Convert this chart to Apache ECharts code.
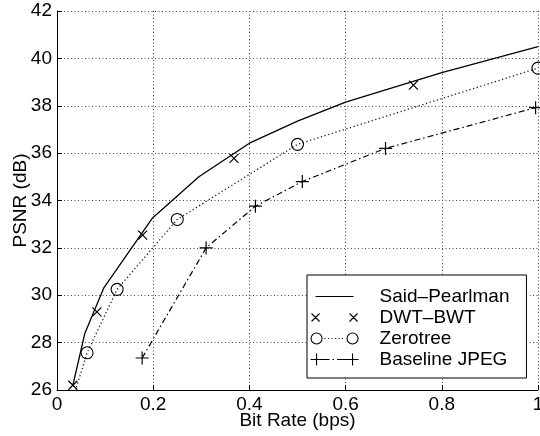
<!DOCTYPE html>
<html>
<head>
<meta charset="utf-8">
<script src="https://cdn.jsdelivr.net/npm/echarts@6/dist/echarts.min.js"></script>
<style>
  html, body { margin: 0; padding: 0; background: #fff; }
  #chart { width: 540px; height: 436px; }
</style>
</head>
<body>
<div id="chart"></div>
<script>
// values
const spRate = [0.033, 0.058, 0.097, 0.198, 0.295, 0.4, 0.5, 0.6, 0.8, 1.0];
const spPsnr = [26.2, 28.4, 30.3, 33.25, 35.0, 36.42, 37.35, 38.15, 39.4, 40.5];

const dwtRate = [0.033, 0.083, 0.178, 0.368, 0.741];
const dwtPsnr = [26.2, 29.3, 32.54, 35.78, 38.87];

const ztRate = [0.03125, 0.0625, 0.125, 0.25, 0.5, 1.0];
const ztPsnr = [25.5, 27.57, 30.25, 33.2, 36.37, 39.59];

const jpRate = [0.177, 0.31, 0.4125, 0.51, 0.683, 0.995];
const jpPsnr = [27.35, 32.0, 33.76, 34.8, 36.2, 37.92];

const seriesNames = ["Said–Pearlman", "DWT–BWT", "Zerotree", "Baseline JPEG"];

const xTicks = { min: 0, max: 1, interval: 0.2 };
const yTicks = { min: 26, max: 42, interval: 2 };

const pair = (xs, ys) => xs.map((x, i) => [x, ys[i]]);

const FONT = "Liberation Sans, Arial, Helvetica, sans-serif";

const xMark = "path://M0,0L10,10M0,10L10,0";
const plusMark = "path://M5,0L5,10M0,5L10,5";

// legend samples in matlab style: marker at both ends of the line
const box = "M0,0M48,14";
const legendIcons = [
  "path://" + box + "M5,7L43,7",
  "path://" + box + "M1,3L9,11M1,11L9,3M39,3L47,11M39,11L47,3",
  "path://" + box +
    "M0.5,7A5.5,5.5 0 1 1 11.5,7A5.5,5.5 0 1 1 0.5,7" +
    "M36.5,7A5.5,5.5 0 1 1 47.5,7A5.5,5.5 0 1 1 36.5,7" +
    "M14,7L15,7M17.5,7L18.5,7M21,7L22,7M24.5,7L25.5,7M28,7L29,7M31.5,7L32.5,7",
  "path://" + box + "M0,7L12,7M6,1L6,13M36,7L48,7M42,1L42,13" +
    "M12,7L19,7M22,7L23.5,7M26.5,7L36,7",
];

const chart = echarts.init(document.getElementById("chart"));

const option = {
  animation: false,
  backgroundColor: "#fff",
  textStyle: { fontFamily: FONT, color: "#000" },
  grid: { left: 57, right: 2, top: 11, bottom: 46, outerBoundsMode: "none", containLabel: false },
  legend: {
    orient: "vertical",
    left: 307,
    top: 275,
    padding: [12, 17, 9, 3],
    itemWidth: 48,
    itemHeight: 14,
    itemGap: 2,
    borderColor: "#000",
    borderWidth: 1,
    backgroundColor: "#fff",
    borderRadius: 0,
    textStyle: { fontFamily: FONT, fontSize: 19, color: "#000", padding: [0, 0, 0, 16] },
    data: seriesNames.map((name, i) => ({
      name: name,
      icon: legendIcons[i],
      itemStyle: { color: "transparent", borderColor: "#000", borderWidth: 1.1 },
    })),
  },
  xAxis: {
    type: "value",
    min: xTicks.min,
    max: xTicks.max,
    interval: xTicks.interval,
    name: "Bit Rate (bps)",
    nameLocation: "middle",
    nameGap: 21,
    nameMoveOverlap: false,
    nameTextStyle: { fontFamily: FONT, fontSize: 19, color: "#000" },
    axisLine: { show: true, onZero: false, lineStyle: { color: "#000", width: 1 } },
    axisTick: { show: true, inside: true, length: 5, lineStyle: { color: "#000" } },
    axisLabel: { fontFamily: FONT, fontSize: 19, color: "#000", margin: 5 },
    splitLine: { show: true, lineStyle: { color: "#444", width: 1, type: [1, 2.5] } },
  },
  yAxis: {
    type: "value",
    min: yTicks.min,
    max: yTicks.max,
    interval: yTicks.interval,
    name: "PSNR (dB)",
    nameLocation: "middle",
    nameGap: 27,
    nameMoveOverlap: false,
    nameTextStyle: { fontFamily: FONT, fontSize: 19, color: "#000" },
    axisLine: { show: true, lineStyle: { color: "#000", width: 1 } },
    axisTick: { show: true, inside: true, length: 5, lineStyle: { color: "#000" } },
    axisLabel: { fontFamily: FONT, fontSize: 19, color: "#000", margin: 5 },
    splitLine: { show: true, lineStyle: { color: "#444", width: 1, type: [1, 2.5] } },
  },
  series: [
    {
      name: seriesNames[0],
      type: "line",
      data: pair(spRate, spPsnr),
      showSymbol: false,
      symbol: "none",
      lineStyle: { color: "#000", width: 1.3 },
      itemStyle: { color: "#000" },
    },
    {
      name: seriesNames[1],
      type: "line",
      data: pair(dwtRate, dwtPsnr),
      symbol: xMark,
      symbolSize: 9,
      lineStyle: { width: 0, opacity: 0 },
      itemStyle: { color: "transparent", borderColor: "#000", borderWidth: 1.2 },
    },
    {
      name: seriesNames[2],
      type: "line",
      data: pair(ztRate, ztPsnr),
      symbol: "circle",
      symbolSize: 12,
      lineStyle: { color: "#222", width: 1.3, type: [1.3, 2.5] },
      itemStyle: { color: "transparent", borderColor: "#000", borderWidth: 1.1 },
    },
    {
      name: seriesNames[3],
      type: "line",
      data: pair(jpRate, jpPsnr),
      symbol: plusMark,
      symbolSize: 13,
      lineStyle: { color: "#000", width: 1.2, type: [6, 3, 1.5, 3] },
      itemStyle: { color: "transparent", borderColor: "#000", borderWidth: 1.2 },
    },
  ],
};

chart.setOption(option);
</script>
</body>
</html>
